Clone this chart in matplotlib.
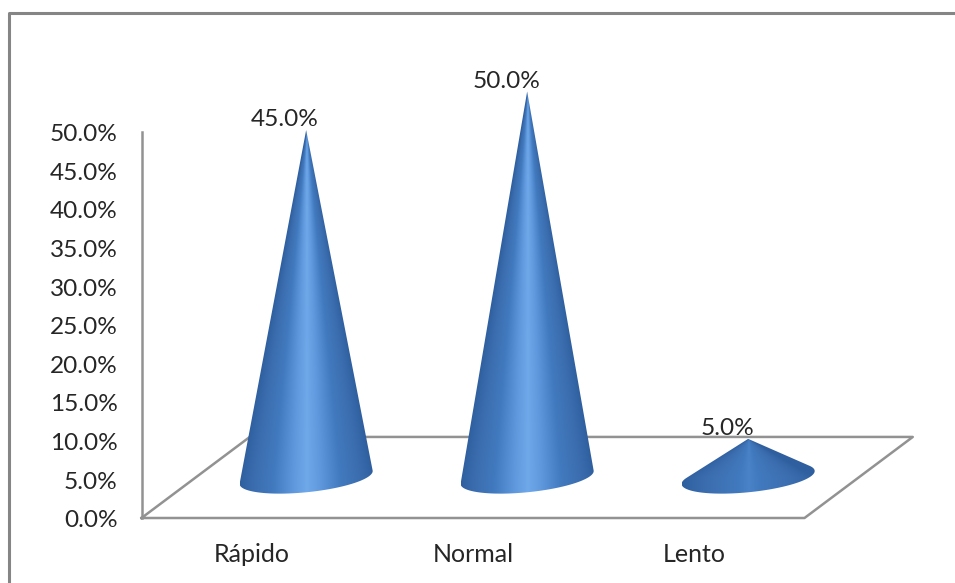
import numpy as np
import matplotlib
matplotlib.use('Agg')
import matplotlib.pyplot as plt
from matplotlib.colors import LinearSegmentedColormap
from matplotlib.patches import Polygon

plt.rcParams['font.family'] = ['Lato', 'DejaVu Sans']

categorias = ['Rápido', 'Normal', 'Lento']
valores = [45.0, 50.0, 5.0]
ticks = [0, 5, 10, 15, 20, 25, 30, 35, 40, 45, 50]

W, H = 955, 583
# pixeles por categoria y por punto porcentual
PX_CAT = 221.0
PX_PCT = 7.72
X0_PX = 252.0
Y0_PX = 518.0

# profundidad del piso en unidades de datos
PROF_X = 0.49
PROF_Y = 10.5

GRIS = '#929292'
TEXTO = '#262626'

fig = plt.figure(figsize=(W / 100, H / 100), dpi=100)
ax = fig.add_axes([0, 0, 1, 1])
ax.axis('off')

# color segun la cercania al centro del cono (0 borde, 1 centro)
cmap = LinearSegmentedColormap.from_list('cono', [
    (0.00, '#2f5f9f'), (0.18, '#3a6cad'), (0.50, '#427abf'),
    (0.80, '#5f98dc'), (1.00, '#70a9ea'),
])

n = len(categorias)
xa, xb = -0.5, n - 0.5

# pared izquierda y piso en falsa perspectiva
ax.plot([xa, xa], [0, 50], color=GRIS, lw=1.8, zorder=1)
ax.plot([xa, xb, xb + PROF_X, xa + PROF_X, xa],
        [0, 0, PROF_Y, PROF_Y, 0], color=GRIS, lw=1.8, zorder=1)

for v in ticks:
    ax.text(xa - 0.108, v - 0.35, f'{v:.1f}%', ha='right', va='center',
            fontsize=17.6, color=TEXTO, zorder=5)

# semiejes de la base (elipse inclinada)
eje_a = np.array([66.5 / PX_CAT, 6 / PX_PCT])
eje_b = np.array([-2 / PX_CAT, -15 / PX_PCT])

for i, (cat, val) in enumerate(zip(categorias, valores)):
    cx = i + PROF_X / 2
    cy = PROF_Y / 2
    top = cy + val
    t = np.linspace(-np.pi / 2, 3 * np.pi / 2, 400)
    bx = cx + np.cos(t) * eje_a[0] + np.sin(t) * eje_b[0]
    by = cy + np.cos(t) * eje_a[1] + np.sin(t) * eje_b[1]
    # los lados del cono son tangentes a la base vista desde el vertice
    pendiente = (bx - cx) / (top - by)
    der, izq = np.argmax(pendiente), np.argmin(pendiente)
    arco = np.column_stack([bx[der:izq + 1], by[der:izq + 1]])
    poly = Polygon(np.vstack([[cx, top], arco]),
                   closed=True, transform=ax.transData, fc='none', ec='none')
    ax.add_patch(poly)

    # sombreado conico: el brillo se estrecha hacia el vertice
    gx = np.linspace(bx.min(), bx.max(), 300)
    gy = np.linspace(by.min(), top, 500)
    mx, my = np.meshgrid(gx, gy)
    ancho = eje_a[0] * np.clip((top - my) / val, 0.002, 1)
    centro = 1 - np.clip(np.abs(mx - cx) / ancho, 0, 1)
    # los conos bajos casi no llegan a mostrar el brillo
    vmax = 1.0 if val >= 10 else 1.7
    im = ax.imshow(centro, extent=[gx[0], gx[-1], gy[0], gy[-1]], origin='lower',
                   cmap=cmap, vmin=0, vmax=vmax, aspect='auto', zorder=3,
                   interpolation='bilinear')
    im.set_clip_path(poly)

    ax.text(i + 0.15, top + 1.35, f'{val:.1f}%', ha='center', va='center',
            fontsize=17.6, color=TEXTO, zorder=6)
    ax.text(i, -4.75, cat, ha='center', va='center', fontsize=18,
            color=TEXTO, zorder=5)

ax.set_xlim(-X0_PX / PX_CAT, (W - X0_PX) / PX_CAT)
ax.set_ylim((Y0_PX - H) / PX_PCT, Y0_PX / PX_PCT)

# marco del grafico
fig.add_artist(plt.Line2D([9 / W, 9 / W, 1], [0, 1 - 13 / H, 1 - 13 / H],
                          color='#858585', lw=2.2, transform=fig.transFigure))

fig.savefig('out.png', dpi=100)
